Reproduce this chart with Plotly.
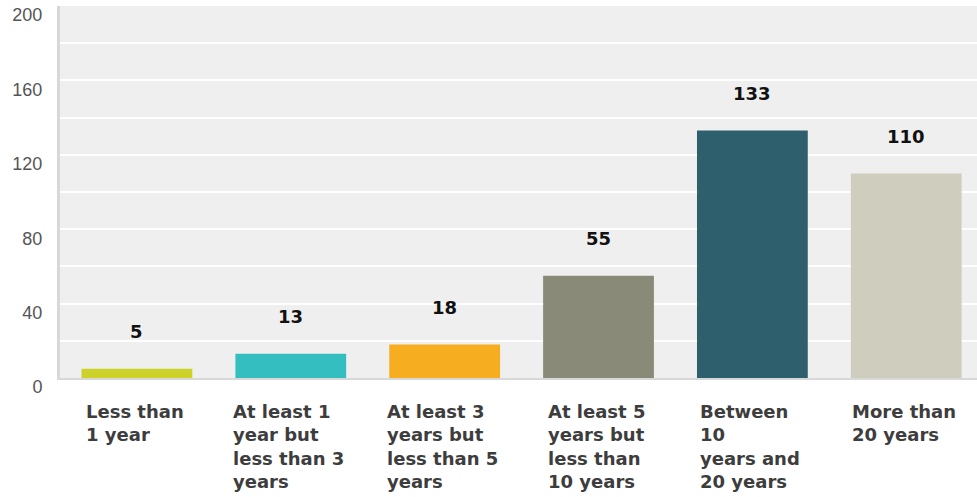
import plotly.graph_objects as go

# Survey answers: length of experience
categories = [
    "Less than 1 year",
    "At least 1 year but less than 3 years",
    "At least 3 years but less than 5 years",
    "At least 5 years but less than 10 years",
    "Between 10 years and 20 years",
    "More than 20 years",
]
category_labels = [
    "Less than<br>1 year",
    "At least 1<br>year but<br>less than 3<br>years",
    "At least 3<br>years but<br>less than 5<br>years",
    "At least 5<br>years but<br>less than<br>10 years",
    "Between<br>10<br>years and<br>20 years",
    "More than<br>20 years",
]
counts = [5, 13, 18, 55, 133, 110]
bar_colors = ["#cdd22a", "#34bec0", "#f6ae20", "#8a8a78", "#2e5f6c", "#cfcdbd"]

y_tick_values = [0, 40, 80, 120, 160, 200]
y_tick_labels = ["0", "40", "80", "120", "160", "200"]

fig = go.Figure(
    go.Bar(
        x=categories,
        y=counts,
        marker=dict(color=bar_colors, line=dict(width=0)),
        hoverinfo="x+y",
    )
)

# value labels above each bar
for cat, val in zip(categories, counts):
    fig.add_annotation(
        x=cat, y=val, xref="x", yref="y",
        text="<b>" + str(val) + "</b>", showarrow=False,
        yanchor="middle", yshift=37,
        font=dict(family="DejaVu Sans", size=18, color="#111111"),
    )

# wrapped category labels, left-aligned within a centred block
for cat, lab in zip(categories, category_labels):
    fig.add_annotation(
        x=cat, y=0, xref="x", yref="paper",
        text="<b>" + lab + "</b>", showarrow=False,
        xanchor="center", yanchor="top", align="left",
        yshift=-21, xshift=-2,
        font=dict(family="DejaVu Sans", size=18, color="#3d3d3d"),
    )

fig.update_layout(
    width=977,
    height=497,
    margin=dict(l=60, r=0, t=6, b=119),
    paper_bgcolor="white",
    plot_bgcolor="#efefef",
    bargap=0.28,
    showlegend=False,
    xaxis=dict(
        range=[-0.5, 5.46],
        showticklabels=False,
        ticks="",
        showgrid=False,
        zeroline=False,
        showline=True,
        linecolor="#d8d8d8",
        linewidth=2,
        fixedrange=True,
    ),
    yaxis=dict(
        range=[0, 200],
        tickvals=y_tick_values,
        ticktext=y_tick_labels,
        ticks="",
        ticklabelstandoff=11,
        ticklabelshift=9,
        tickfont=dict(family="Liberation Sans, Arial, sans-serif", size=18, color="#555555"),
        showgrid=True,
        gridcolor="white",
        gridwidth=1.5,
        minor=dict(dtick=20, tick0=0, showgrid=True, gridcolor="white", gridwidth=1.5),
        zeroline=False,
        showline=True,
        linecolor="#d8d8d8",
        linewidth=3,
        fixedrange=True,
    ),
)

fig.write_html("out.html")
